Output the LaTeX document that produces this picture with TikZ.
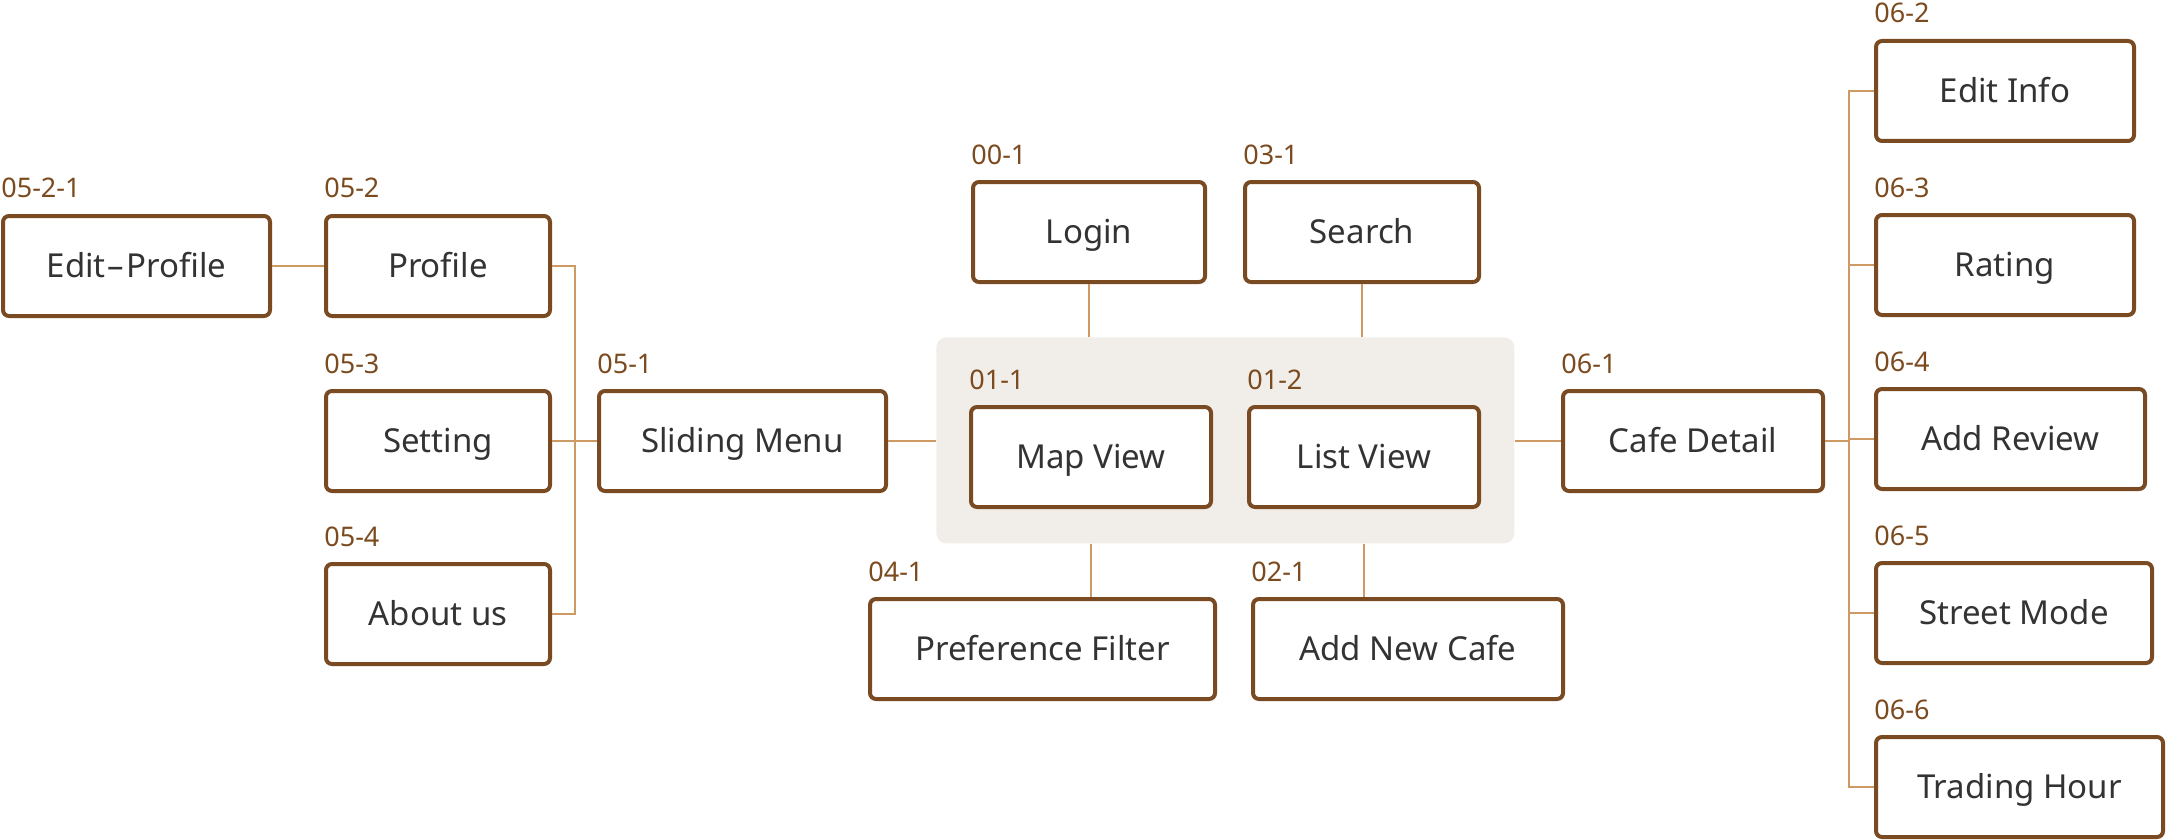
\documentclass[tikz,border=0pt]{standalone}
\usepackage{fontspec}
\setmainfont{Noto Sans}
\definecolor{boxbrown}{HTML}{7A4B22}
\definecolor{tagbrown}{HTML}{7B4A1E}
\definecolor{linktan}{HTML}{CC9A62}
\definecolor{panelgray}{HTML}{F1EEE9}
\definecolor{textgray}{HTML}{333333}
\tikzset{
  screen/.style={draw=boxbrown, line width=2pt, rounded corners=3pt, fill=white,
    anchor=north west, minimum height=50pt, inner sep=0pt, text=textgray,
    text height=11.8pt, text depth=0pt, font=\fontsize{16.5}{19}\selectfont},
  tag/.style={anchor=base west, inner sep=0pt, yshift=8pt,
    text=tagbrown, font=\fontsize{13.5}{15}\selectfont},
  link/.style={draw=linktan, line width=1pt},
}

\begin{document}
\begin{tikzpicture}[x=0.5pt, y=-0.5pt]
        \useasboundingbox (0,0) rectangle (2168,840);
        % grey panel behind the two main views
        \node[fill=panelgray, rounded corners=5pt, anchor=north west, minimum width=289pt,
              minimum height=103pt, inner sep=0pt] (panel) at (936,337) {};
        % main views
        \node[screen, minimum width=120pt, label={[tag]north west:01-1}] (map) at (969,405) {Map View};
        \node[screen, minimum width=115pt, label={[tag]north west:01-2}] (list) at (1247,405) {List View};
        \node[screen, minimum width=116pt, label={[tag]north west:00-1}] (login) at (971,180) {Login};
        \node[screen, minimum width=117pt, label={[tag]north west:03-1}] (search) at (1243,180) {Search};
        \node[screen, minimum width=172.5pt, label={[tag]north west:04-1}] (pref) at (868,597) {Preference Filter};
        \node[screen, minimum width=155pt, label={[tag]north west:02-1}] (addcafe) at (1251,597) {Add New Cafe};
        % sliding menu side
        \node[screen, minimum width=143.5pt, label={[tag]north west:05-1}] (sliding) at (597,389) {Sliding Menu};
        \node[screen, minimum width=112pt, label={[tag]north west:05-2}] (profile) at (324,214) {Profile};
        \node[screen, minimum width=112pt, label={[tag]north west:05-3}] (setting) at (324,389) {Setting};
        \node[screen, minimum width=112pt, label={[tag]north west:05-4}] (about) at (324,562) {About us};
        \node[screen, minimum width=133.5pt, label={[tag]north west:05-2-1}] (editprof) at (1,214) {Edit{\kern1pt}–{\kern1pt}Profile};
        % cafe detail side
        \node[screen, minimum width=130pt, label={[tag]north west:06-1}] (cafe) at (1561,389) {Cafe Detail};
        \node[screen, minimum width=129pt, label={[tag]north west:06-2}] (editinfo) at (1874,39) {Edit Info};
        \node[screen, minimum width=129pt, label={[tag]north west:06-3}] (rating) at (1874,213) {Rating};
        \node[screen, minimum width=134.5pt, label={[tag]north west:06-4}] (review) at (1874,387) {Add Review};
        \node[screen, minimum width=138pt, label={[tag]north west:06-5}] (street) at (1874,561) {Street Mode};
        \node[screen, minimum width=143.5pt, label={[tag]north west:06-6}] (trading) at (1874,735) {Trading Hour};

        % connectors
        \draw[link] (login.south) -- (login.south |- panel.north);
        \draw[link] (search.south) -- (search.south |- panel.north);
        \draw[link] (map.south |- panel.south) -- (map.south |- pref.north);
        \draw[link] (list.south |- panel.south) -- (list.south |- addcafe.north);
        \draw[link] (sliding.east) -- (sliding.east -| panel.west);
        \draw[link] (cafe.west -| panel.east) -- (cafe.west);
        \draw[link] (editprof) -- (profile);
        \draw[link] (profile.east) -- ++(23,0) |- (about.east);
        \draw[link] (setting) -- (sliding);
        \draw[link] (cafe.east) -- ++(24,0) coordinate (rt);
        \draw[link] (editinfo.west) -| (rt) |- (trading.west);
        \foreach \n in {rating,review,street}
            \draw[link] (\n.west) -- (\n.west -| rt);
    \end{tikzpicture}
\end{document}
